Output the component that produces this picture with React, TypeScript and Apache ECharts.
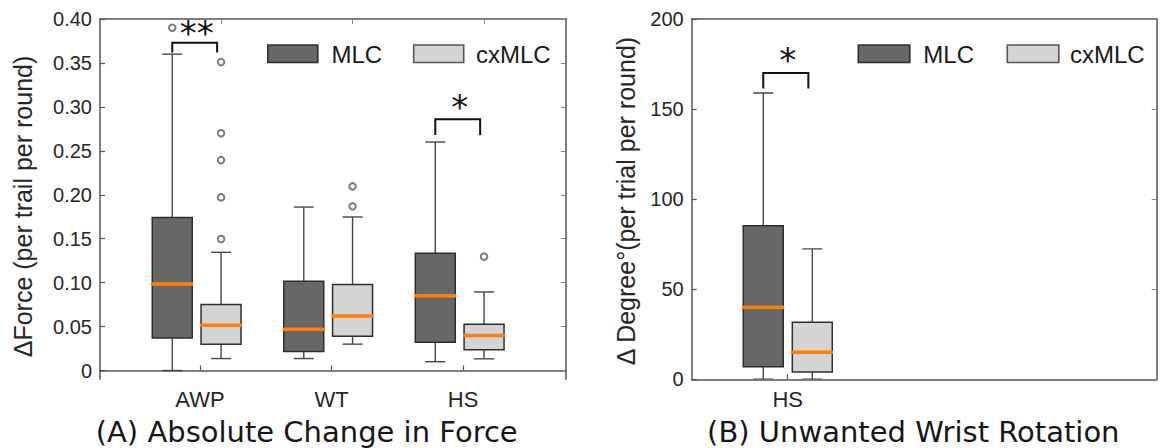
import React, { useEffect, useRef } from "react";
import * as echarts from "echarts";

// ---------- DATA ----------
// Panel A: absolute change in force
const forceCategories = ["AWP", "WT", "HS"];
// each row: [lower whisker, Q1, median, Q3, upper whisker]
const forceMLC = [
  [0.0, 0.037, 0.0985, 0.174, 0.36],
  [0.0136, 0.0216, 0.047, 0.1016, 0.186],
  [0.01, 0.0322, 0.0852, 0.1334, 0.26],
];
const forceCxMLC = [
  [0.0136, 0.03, 0.0516, 0.075, 0.1345],
  [0.03, 0.039, 0.062, 0.098, 0.1747],
  [0.0133, 0.0235, 0.0398, 0.0527, 0.0894],
];
// outliers: [category index, value]
const forceMLCOutliers = [[0, 0.39]];
const forceCxMLCOutliers = [
  [0, 0.351],
  [0, 0.27],
  [0, 0.2394],
  [0, 0.197],
  [0, 0.1497],
  [1, 0.2095],
  [1, 0.1868],
  [2, 0.1296],
];
const forceYTicks = [0, 0.05, 0.1, 0.15, 0.2, 0.25, 0.3, 0.35, 0.4];
// significance brackets: category index, label, bracket top, leg end, label height
const forceSigIndex = [0, 2];
const forceSigLabel = ["**", "*"];
const forceSigTop = [0.373, 0.286];
const forceSigLeg = [0.362, 0.268];
const forceSigStar = [0.384, 0.3];

// Panel B: unwanted wrist rotation
const rotCategories = ["HS"];
const rotMLC = [[0, 7, 40, 85.3, 158.9]];
const rotCxMLC = [[0, 4, 15, 31.7, 72.4]];
const rotYTicks = [0, 50, 100, 150, 200];
const rotSigIndex = [0];
const rotSigLabel = ["*"];
const rotSigTop = [170];
const rotSigLeg = [161.4];
const rotSigStar = [177];

// ---------- STYLE ----------
const FONT = "'Liberation Sans', Arial, sans-serif";
const TITLE_FONT = "'DejaVu Sans', Verdana, sans-serif";
const MLC_FILL = "#676767";
const CX_FILL = "#d4d4d4";
const EDGE = "#2e2e2e";
const WHISKER = "#474747";
const MEDIAN = "#ff7f0e";
const AXIS = "#545454";
const BOX_W = 0.304;

const L_OFF = [-0.211, 0.16];
const R_OFF = [-0.186, 0.187];

function boxRender(offset: number, fill: string) {
  return (_p: any, api: any) => {
    const gx = api.value(0) + offset;
    const lo = api.coord([gx, api.value(1)]);
    const q1 = api.coord([gx, api.value(2)]);
    const md = api.coord([gx, api.value(3)]);
    const q3 = api.coord([gx, api.value(4)]);
    const hi = api.coord([gx, api.value(5)]);
    const w = api.size([BOX_W, 0])[0];
    const x = lo[0];
    const ws = { stroke: WHISKER, lineWidth: 1.4 };
    return {
      type: "group",
      children: [
        { type: "line", shape: { x1: x, y1: hi[1], x2: x, y2: q3[1] }, style: ws },
        { type: "line", shape: { x1: x, y1: q1[1], x2: x, y2: lo[1] }, style: ws },
        { type: "line", shape: { x1: x - w / 4, y1: hi[1], x2: x + w / 4, y2: hi[1] }, style: ws },
        { type: "line", shape: { x1: x - w / 4, y1: lo[1], x2: x + w / 4, y2: lo[1] }, style: ws },
        {
          type: "rect",
          shape: { x: x - w / 2, y: q3[1], width: w, height: q1[1] - q3[1] },
          style: { fill, stroke: EDGE, lineWidth: 1.5 },
        },
        {
          type: "line",
          shape: { x1: x - w / 2 - 1, y1: md[1], x2: x + w / 2 + 1, y2: md[1] },
          style: { stroke: MEDIAN, lineWidth: 3.5 },
        },
      ],
    };
  };
}

function sigRender(off: number[], labels: string[]) {
  return (p: any, api: any) => {
    const g = api.value(0);
    const l = api.coord([g + off[0], api.value(1)]);
    const r = api.coord([g + off[1] - 0.03, api.value(1)]);
    const leg = api.coord([g, api.value(2)]);
    const star = api.coord([(g + off[0] + g + off[1]) / 2, api.value(3)]);
    const ls = { stroke: "#111", lineWidth: 2, fill: "none" };
    return {
      type: "group",
      children: [
        {
          type: "polyline",
          shape: { points: [[l[0], leg[1]], [l[0], l[1]], [r[0], r[1]], [r[0], leg[1]]] },
          style: ls,
        },
        {
          type: "text",
          x: star[0],
          y: star[1],
          style: {
            text: labels[p.dataIndex],
            fontSize: 34,
            fontFamily: TITLE_FONT,
            fill: "#111",
            align: "center",
            verticalAlign: "middle",
          },
        },
      ],
    };
  };
}

function xAxes(grid: number, min: number, max: number, cats: string[], topTicks: number[] | null) {
  const vals = cats.map((_, i) => i + 1);
  return [
    {
      type: "value",
      gridIndex: grid,
      position: "bottom",
      min,
      max,
      axisLine: { show: true, lineStyle: { color: AXIS, width: 1.5 } },
      axisTick: { show: true, inside: true, length: 5, customValues: vals, lineStyle: { color: AXIS, width: 1.2 } },
      axisLabel: {
        customValues: vals,
        formatter: (v: number) => cats[Math.round(v) - 1] ?? "",
        fontSize: 22,
        fontFamily: FONT,
        color: "#262626",
        margin: 9,
      },
      splitLine: { show: false },
    },
    {
      type: "value",
      gridIndex: grid,
      position: "top",
      min,
      max,
      axisLine: { show: true, onZero: false, lineStyle: { color: AXIS, width: 1.5 } },
      axisTick: topTicks
        ? { show: true, inside: true, length: 5, customValues: topTicks, lineStyle: { color: "#888", width: 1 } }
        : { show: false },
      axisLabel: { show: false },
      splitLine: { show: false },
    },
  ];
}

function yAxes(grid: number, min: number, max: number, ticks: number[], fmt: (v: number) => string) {
  return [
    {
      type: "value",
      gridIndex: grid,
      position: "left",
      min,
      max,
      axisLine: { show: true, onZero: false, lineStyle: { color: AXIS, width: 1.5 } },
      axisTick: { show: true, inside: true, length: 5, customValues: ticks, lineStyle: { color: AXIS, width: 1.2 } },
      axisLabel: {
        customValues: ticks,
        formatter: fmt,
        fontSize: 20,
        fontFamily: FONT,
        color: "#262626",
        margin: 8,
      },
      splitLine: { show: false },
    },
    {
      type: "value",
      gridIndex: grid,
      position: "right",
      min,
      max,
      axisLine: { show: true, onZero: false, lineStyle: { color: AXIS, width: 1.5 } },
      axisTick: { show: true, inside: true, length: 5, customValues: ticks, lineStyle: { color: "#888", width: 1 } },
      axisLabel: { show: false },
      splitLine: { show: false },
    },
  ];
}

function legend(x0: number, sw: number, x1: number, x2: number, x3: number) {
  const ts = { fontSize: 24, fontFamily: FONT, fill: "#1a1a1a", verticalAlign: "middle", align: "left" };
  return [
    { type: "rect", shape: { x: x0, y: 45, width: sw, height: 17.5 }, style: { fill: MLC_FILL, stroke: EDGE, lineWidth: 1.6 } },
    { type: "text", x: x1, y: 54, style: { ...ts, text: "MLC" } },
    { type: "rect", shape: { x: x2, y: 45, width: sw, height: 17.5 }, style: { fill: CX_FILL, stroke: "#555", lineWidth: 1.6 } },
    { type: "text", x: x3, y: 54, style: { ...ts, text: "cxMLC" } },
  ];
}

export default function App() {
  const ref = useRef<HTMLDivElement>(null);
  useEffect(() => {
    document.body.style.margin = "0";
    if (!ref.current) return;
    const chart = echarts.init(ref.current, null, { renderer: "svg" });

    const fmtForce = (v: number) => (v === 0 ? "0" : v.toFixed(2));
    const fmtRot = (v: number) => String(Math.round(v));

    const option: any = {
      animation: false,
      backgroundColor: "#ffffff",
      grid: [
        { left: 100, top: 19, width: 466, height: 360.3 },
        { left: 691.7, top: 19, width: 465, height: 360.3 },
      ],
      xAxis: [
        ...xAxes(0, 0.2395, 3.783, forceCategories, forceCategories.map((_, i) => i + 1 + L_OFF[1])),
        ...xAxes(1, 0.27, 3.806, rotCategories, null),
      ],
      yAxis: [
        ...yAxes(0, -0.01, 0.4, forceYTicks, fmtForce),
        ...yAxes(1, 0, 200, rotYTicks, fmtRot),
      ],
      series: [
        {
          type: "custom",
          name: "MLC",
          xAxisIndex: 0,
          yAxisIndex: 0,
          renderItem: boxRender(L_OFF[0], MLC_FILL),
          encode: { x: 0, y: [1, 2, 3, 4, 5] },
          data: forceMLC.map((d, i) => [i + 1, ...d]),
          z: 2,
        },
        {
          type: "custom",
          name: "cxMLC",
          xAxisIndex: 0,
          yAxisIndex: 0,
          renderItem: boxRender(L_OFF[1], CX_FILL),
          encode: { x: 0, y: [1, 2, 3, 4, 5] },
          data: forceCxMLC.map((d, i) => [i + 1, ...d]),
          z: 2,
        },
        {
          type: "scatter",
          name: "MLC outliers",
          xAxisIndex: 0,
          yAxisIndex: 0,
          symbol: "emptyCircle",
          symbolSize: 6.5,
          itemStyle: { color: "#5a5a5a", borderWidth: 1.1 },
          data: forceMLCOutliers.map(([i, v]) => [i + 1 + L_OFF[0], v]),
          z: 3,
        },
        {
          type: "scatter",
          name: "cxMLC outliers",
          xAxisIndex: 0,
          yAxisIndex: 0,
          symbol: "emptyCircle",
          symbolSize: 6.5,
          itemStyle: { color: "#5a5a5a", borderWidth: 1.1 },
          data: forceCxMLCOutliers.map(([i, v]) => [i + 1 + L_OFF[1], v]),
          z: 3,
        },
        {
          type: "custom",
          name: "sigA",
          xAxisIndex: 0,
          yAxisIndex: 0,
          renderItem: sigRender(L_OFF, forceSigLabel),
          encode: { x: 0, y: [1, 2, 3] },
          data: forceSigIndex.map((ci, k) => [ci + 1, forceSigTop[k], forceSigLeg[k], forceSigStar[k]]),
          z: 4,
        },
        {
          type: "custom",
          name: "MLC",
          xAxisIndex: 2,
          yAxisIndex: 2,
          renderItem: boxRender(R_OFF[0], MLC_FILL),
          encode: { x: 0, y: [1, 2, 3, 4, 5] },
          data: rotMLC.map((d, i) => [i + 1, ...d]),
          clip: true,
          z: 2,
        },
        {
          type: "custom",
          name: "cxMLC",
          xAxisIndex: 2,
          yAxisIndex: 2,
          renderItem: boxRender(R_OFF[1], CX_FILL),
          encode: { x: 0, y: [1, 2, 3, 4, 5] },
          data: rotCxMLC.map((d, i) => [i + 1, ...d]),
          clip: true,
          z: 2,
        },
        {
          type: "custom",
          name: "sigB",
          xAxisIndex: 2,
          yAxisIndex: 2,
          renderItem: sigRender(R_OFF, rotSigLabel),
          encode: { x: 0, y: [1, 2, 3] },
          data: rotSigIndex.map((ci, k) => [ci + 1, rotSigTop[k], rotSigLeg[k], rotSigStar[k]]),
          z: 4,
        },
      ],
      graphic: [
        ...legend(267.8, 50, 331.5, 413.7, 476),
        ...legend(858.3, 51.5, 923.3, 1007.3, 1070),
        {
          type: "text",
          x: 23,
          y: 206.5,
          rotation: Math.PI / 2,
          style: {
            text: "ΔForce (per trail per round)",
            fontSize: 25,
            fontFamily: FONT,
            fill: "#262626",
            align: "center",
            verticalAlign: "middle",
          },
        },
        {
          type: "text",
          x: 626,
          y: 201,
          rotation: Math.PI / 2,
          style: {
            text: "Δ Degree°(per trial per round)",
            fontSize: 25,
            fontFamily: FONT,
            fill: "#262626",
            align: "center",
            verticalAlign: "middle",
          },
        },
        {
          type: "text",
          x: 306.7,
          y: 432,
          style: {
            text: "(A) Absolute Change in Force",
            fontSize: 29,
            fontFamily: TITLE_FONT,
            fill: "#161616",
            align: "center",
            verticalAlign: "middle",
          },
        },
        {
          type: "text",
          x: 913.3,
          y: 432,
          style: {
            text: "(B) Unwanted Wrist Rotation",
            fontSize: 29,
            fontFamily: TITLE_FONT,
            fill: "#161616",
            align: "center",
            verticalAlign: "middle",
          },
        },
      ],
    };
    chart.setOption(option);
    return () => chart.dispose();
  }, []);
  return <div ref={ref} style={{ width: 1160, height: 448 }} />;
}
